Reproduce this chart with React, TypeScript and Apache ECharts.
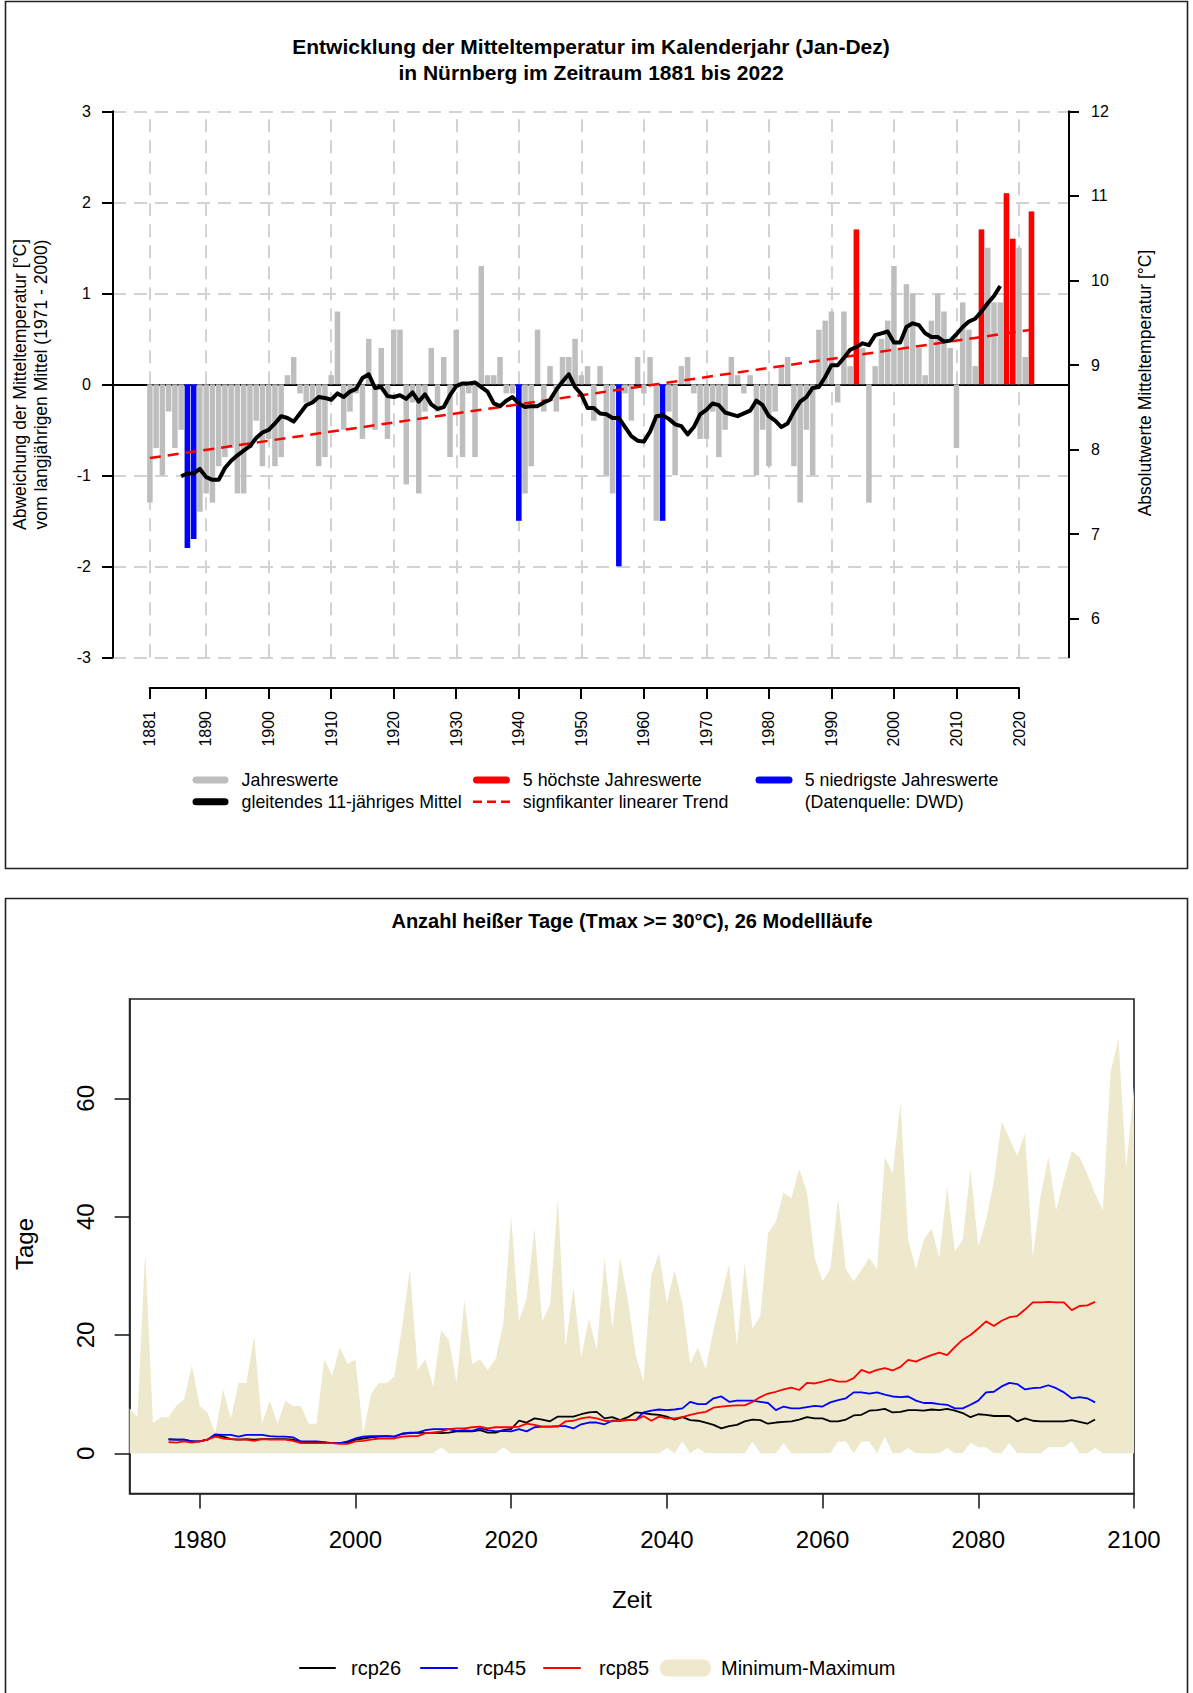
import React, { useEffect, useRef } from "react";
import * as echarts from "echarts";

// ---------- Top chart: annual mean temperature anomaly, Nürnberg ----------
const FIRST_YEAR = 1881;
const anomalies = [
  -1.3, -0.7, -1.0, -0.3, -0.7, -0.5, -1.8, -1.7, -1.4, -1.2,
  -1.3, -0.9, -0.8, -0.7, -1.2, -1.2, -0.7, -0.4, -0.9, -0.6,
  -0.9, -0.8, 0.1, 0.3, -0.1, -0.2, -0.2, -0.9, -0.8, 0.1,
  0.8, -0.5, -0.3, -0.1, -0.6, 0.5, -0.5, 0.4, -0.6, 0.6,
  0.6, -1.1, -0.2, -1.2, -0.3, 0.4, -0.3, 0.3, -0.8, 0.6,
  -0.8, -0.1, -0.8, 1.3, 0.1, 0.1, 0.3, -0.1, -0.1, -1.5,
  -1.2, -0.9, 0.6, -0.3, 0.2, -0.3, 0.3, 0.3, 0.5, 0.1,
  0.2, -0.4, 0.2, -1.0, -1.2, -2.0, -0.1, -0.4, 0.3, -0.1,
  0.3, -1.5, -1.5, -0.3, -1.0, 0.2, 0.3, -0.1, -0.6, -0.6,
  -0.3, -0.8, -0.5, 0.3, 0.1, -0.1, 0.1, -1.0, -0.5, -0.9,
  -0.3, 0.2, 0.3, -0.9, -1.3, -0.5, -1.0, 0.6, 0.7, 0.8,
  -0.2, 0.8, 0.2, 1.7, 0.4, -1.3, 0.2, 0.5, 0.7, 1.3,
  0.4, 1.1, 1.0, 0.4, 0.1, 0.7, 1.0, 0.8, 0.4, -0.7,
  0.9, 0.6, 0.2, 1.7, 1.5, 0.9, 0.9, 2.1, 1.6, 1.5,
  0.3, 1.9,
];
const hottestYears = [1994, 2014, 2018, 2019, 2022];
const coldestYears = [1887, 1888, 1940, 1956, 1963];

const MA_FIRST_YEAR = 1886;
const movingAverage = [
  -1.01, -0.98, -0.98, -0.93, -1.02, -1.05, -1.05, -0.92, -0.84, -0.78,
  -0.73, -0.68, -0.59, -0.53, -0.5, -0.43, -0.35, -0.37, -0.41, -0.32,
  -0.23, -0.2, -0.14, -0.15, -0.17, -0.1, -0.14, -0.08, -0.05, 0.07,
  0.11, -0.04, -0.03, -0.13, -0.14, -0.12, -0.16, -0.09, -0.19, -0.11,
  -0.22, -0.27, -0.25, -0.12, -0.02, 0.01, 0.01, 0.02, -0.03, -0.08,
  -0.21, -0.24, -0.18, -0.14, -0.21, -0.25, -0.24, -0.24, -0.2, -0.17,
  -0.06, 0.03, 0.11, -0.03, -0.11, -0.26, -0.26, -0.32, -0.33, -0.37,
  -0.37, -0.47, -0.57, -0.62, -0.63, -0.52, -0.35, -0.34, -0.38, -0.44,
  -0.46, -0.55, -0.47, -0.33, -0.28, -0.21, -0.23, -0.31, -0.33, -0.35,
  -0.32, -0.29, -0.18, -0.23, -0.35, -0.4, -0.47, -0.43, -0.3, -0.19,
  -0.14, -0.04, -0.03, 0.08, 0.21, 0.21, 0.29, 0.38, 0.41, 0.45,
  0.43, 0.54, 0.56, 0.58, 0.46, 0.46, 0.63, 0.67, 0.65, 0.56,
  0.52, 0.52, 0.47, 0.48, 0.55, 0.63, 0.69, 0.72, 0.8, 0.89,
  0.97, 1.08,
];

const trendYears = [1881, 2022];
const trendValues = [-0.81, 0.6];

const topTickYears = [1881, 1890, 1900, 1910, 1920, 1930, 1940, 1950, 1960, 1970, 1980, 1990, 2000, 2010, 2020];
const absoluteTicks = [6, 7, 8, 9, 10, 11, 12];

// ---------- Bottom chart: hot days (Tmax >= 30 °C), 26 model runs ----------
const ENV_FIRST_YEAR = 1971;
const envelopeMax = [
  7.6, 6.1, 34.1, 5.1, 6.1, 6.1, 8.0, 9.1, 14.9, 8.0,
  6.9, 3.4, 10.8, 5.9, 11.9, 11.9, 19.8, 5.0, 8.9, 5.0,
  8.9, 8.0, 8.0, 5.0, 5.0, 15.9, 13.1, 17.9, 15.1, 15.9,
  3.3, 10.0, 11.9, 11.9, 13.0, 21.4, 31.1, 14.1, 15.9, 11.2,
  20.8, 19.2, 11.9, 25.9, 15.1, 15.9, 14.1, 15.9, 22.0, 40.1,
  22.3, 26.2, 38.0, 22.3, 25.1, 43.1, 18.0, 28.1, 16.2, 22.8,
  17.5, 33.0, 21.1, 33.0, 25.9, 16.6, 12.1, 30.1, 33.8, 25.4,
  31.0, 25.4, 15.1, 17.9, 14.2, 21.0, 26.4, 32.0, 18.1, 32.1,
  21.1, 23.2, 37.2, 39.2, 44.1, 43.1, 48.1, 44.1, 33.0, 29.1,
  31.1, 43.1, 31.1, 29.1, 31.0, 33.0, 31.1, 50.1, 47.3, 59.3,
  36.1, 31.1, 36.1, 38.0, 33.0, 45.1, 34.1, 36.1, 48.0, 35.0,
  39.4, 45.9, 56.1, 53.2, 50.3, 54.1, 33.2, 43.4, 50.1, 41.1,
  46.3, 51.1, 50.1, 47.2, 43.9, 41.1, 64.5, 70.1, 48.2, 62.0,
];
const envelopeMin = [
  0, 0, 0, 0, 0, 0, 0, 0, 0, 0,
  0, 0, 0, 0, 0, 0, 0, 0, 0, 0,
  0, 0, 0, 0, 0, 0, 0, 0, 0, 0,
  0, 0, 0, 0, 0, 0, 0, 0, 0, 0,
  1.0, 0, 0, 0, 0, 0, 0, 0, 1.0, 0,
  0, 0, 0, 0, 0, 0, 0, 0, 0, 0,
  0, 0, 0, 0, 0, 0, 0, 0, 0, 0.9,
  0, 2.0, 0, 0.9, 0, 0, 0, 0, 0, 0,
  2.0, 0, 0, 0, 1.7, 0, 0, 0, 0, 0,
  0, 2.0, 2.0, 0, 2.0, 2.0, 0, 2.8, 0, 0,
  0.9, 0, 0, 0, 0, 0.9, 0, 0, 1.8, 1.0,
  1.0, 0, 0, 1.8, 0, 0, 0, 0, 1.0, 1.0,
  1.0, 2.0, 0, 0, 0.9, 0, 0, 0, 0, 0,
];

const RCP_FIRST_YEAR = 1976;
const rcp26 = [
  2.4, 2.3, 2.3, 2.0, 2.0, 2.3, 3.1, 2.8, 2.4, 2.3,
  2.4, 2.3, 2.4, 2.4, 2.4, 2.4, 2.3, 1.8, 1.8, 1.8,
  1.8, 1.7, 1.7, 1.8, 2.3, 2.5, 2.7, 2.8, 2.9, 2.8,
  3.3, 3.4, 3.5, 3.4, 3.5, 3.4, 3.5, 3.7, 3.7, 3.7,
  3.9, 3.5, 3.5, 3.9, 4.1, 5.5, 5.2, 5.9, 5.7, 5.4,
  6.2, 6.2, 6.2, 6.6, 6.9, 7.0, 5.9, 6.1, 5.6, 6.1,
  6.9, 6.8, 6.6, 6.5, 6.2, 5.7, 6.1, 5.6, 5.5, 5.2,
  4.8, 4.2, 4.6, 4.8, 5.4, 5.7, 5.6, 5.0, 5.2, 5.3,
  5.4, 5.7, 6.1, 5.9, 5.9, 5.4, 5.4, 5.7, 6.4, 6.5,
  7.2, 7.3, 7.5, 6.9, 7.0, 7.3, 7.3, 7.2, 7.4, 7.3,
  7.5, 7.2, 6.8, 6.1, 6.6, 6.5, 6.3, 6.3, 6.3, 5.4,
  5.9, 5.5, 5.4, 5.4, 5.4, 5.4, 5.6, 5.3, 5.0, 5.7,
];
const rcp45 = [
  2.3, 2.3, 2.3, 2.0, 2.0, 2.3, 3.2, 3.1, 3.1, 2.8,
  3.1, 3.1, 3.1, 2.9, 2.8, 2.8, 2.7, 2.0, 2.0, 2.0,
  1.9, 1.7, 1.7, 2.0, 2.5, 2.8, 2.9, 2.9, 2.9, 2.8,
  3.3, 3.5, 3.5, 3.9, 4.1, 4.1, 4.1, 3.8, 3.9, 3.8,
  4.2, 3.9, 3.7, 3.8, 3.7, 4.1, 3.7, 4.4, 4.5, 4.5,
  4.6, 4.6, 4.2, 4.9, 5.2, 5.2, 4.9, 5.5, 5.5, 5.6,
  5.6, 6.9, 7.2, 7.4, 7.3, 7.4, 7.6, 8.7, 8.3, 8.3,
  9.3, 9.6, 8.7, 8.9, 8.9, 8.9, 8.7, 8.5, 7.3, 7.9,
  7.6, 7.6, 7.8, 8.0, 7.9, 8.6, 9.0, 9.3, 10.3, 10.3,
  10.1, 10.3, 9.9, 9.6, 9.5, 9.6, 8.9, 8.5, 8.5, 8.3,
  8.2, 7.6, 7.6, 8.2, 8.9, 10.3, 10.4, 11.3, 11.9, 11.7,
  10.8, 11.0, 11.1, 11.5, 11.0, 10.3, 9.3, 9.5, 9.3, 8.6,
];
const rcp85 = [
  1.9, 1.8, 2.0, 1.8, 2.0, 2.3, 2.8, 2.5, 2.4, 2.3,
  2.3, 2.1, 2.4, 2.3, 2.3, 2.3, 2.1, 1.7, 1.7, 1.7,
  1.7, 1.7, 1.6, 1.6, 2.0, 2.1, 2.3, 2.5, 2.5, 2.5,
  2.8, 2.9, 2.9, 3.4, 3.5, 3.7, 4.1, 4.2, 4.2, 4.4,
  4.5, 4.2, 4.4, 4.4, 4.4, 4.5, 5.0, 4.8, 4.5, 4.5,
  4.5, 5.4, 5.5, 5.9, 6.1, 5.9, 5.5, 5.4, 5.6, 5.6,
  5.6, 6.3, 5.5, 6.2, 5.9, 5.9, 6.1, 6.5, 6.8, 7.0,
  7.7, 7.9, 8.0, 8.1, 8.1, 8.7, 9.5, 10.1, 10.4, 10.8,
  11.1, 10.7, 11.9, 11.8, 12.1, 12.5, 12.1, 12.1, 12.7, 14.1,
  13.6, 14.1, 14.4, 14.0, 14.6, 15.8, 15.5, 16.1, 16.6, 17.0,
  16.6, 18.0, 19.2, 20.0, 21.1, 22.3, 21.5, 22.4, 23.0, 23.2,
  24.3, 25.5, 25.5, 25.6, 25.5, 25.5, 24.2, 24.9, 25.0, 25.6,
];
const bottomXTicks = [1980, 2000, 2020, 2040, 2060, 2080, 2100];
const bottomYTicks = [0, 20, 40, 60];

const FONT = "'Liberation Sans', Arial, Helvetica, sans-serif";
const GRAY = "#BEBEBE";
const BEIGE = "#EEE8CD";

function pairs(start: number, values: number[]) {
  return values.map((v, i) => [start + i, v]);
}

function txt(text: string, x: number, y: number, size: number, opts: any = {}) {
  return {
    type: "text",
    x,
    y,
    rotation: opts.rotation || 0,
    silent: true,
    style: {
      text,
      fontSize: size,
      fontFamily: FONT,
      fontWeight: opts.bold ? "bold" : "normal",
      fill: "#000",
      align: opts.align || "center",
      verticalAlign: "middle",
    },
  };
}

function seg(x1: number, x2: number, y: number, color: string, width: number, dash?: number[]) {
  return {
    type: "line",
    silent: true,
    shape: { x1, y1: y, x2, y2: y },
    style: { stroke: color, lineWidth: width, lineCap: dash ? "butt" : "round", lineDash: dash || null },
  };
}

export default function App() {
  const ref = useRef<HTMLDivElement>(null);

  useEffect(() => {
    const chart = echarts.init(ref.current!, null, { renderer: "svg" });
    const valueOf = (y: number) => anomalies[y - FIRST_YEAR];
    const axisTxt = { color: "#000", fontFamily: FONT };

    const option: any = {
      animation: false,
      backgroundColor: "#fff",
      grid: [
        { left: 113, top: 111.3, width: 956, height: 546 },
        { left: 149.7, top: 687, width: 869.3, height: 1 },
        { left: 129.6, top: 999, width: 1004.4, height: 494.5, show: true, borderColor: "#222", borderWidth: 1.6, backgroundColor: "transparent" },
      ],
      xAxis: [
        {
          gridIndex: 0, type: "value", min: 1875.1, max: 2028,
          axisLine: { show: true, onZero: true, onZeroAxisIndex: 0, lineStyle: { color: "#000", width: 2 } },
          axisTick: { show: false }, axisLabel: { show: false }, splitLine: { show: false },
        },
        {
          gridIndex: 1, type: "value", min: 1881, max: 2020,
          axisLine: { show: true, onZero: false, lineStyle: { color: "#000", width: 2 } },
          axisTick: { show: true, customValues: topTickYears, length: 11, lineStyle: { color: "#000", width: 2 } },
          axisLabel: { customValues: topTickYears, rotate: 90, margin: 23, fontSize: 16, ...axisTxt, formatter: (v: number) => String(v) },
          splitLine: { show: false },
        },
        {
          gridIndex: 2, type: "value", min: 1971, max: 2100,
          axisLine: { show: true, onZero: false, lineStyle: { color: "#222", width: 1.6 } },
          axisTick: { show: true, customValues: bottomXTicks, length: 15, lineStyle: { color: "#222", width: 1.6 } },
          axisLabel: { customValues: bottomXTicks, margin: 34, fontSize: 24, ...axisTxt, formatter: (v: number) => String(v) },
          splitLine: { show: false },
        },
      ],
      yAxis: [
        {
          gridIndex: 0, type: "value", min: -3, max: 3, interval: 1, position: "left",
          axisLine: { show: true, lineStyle: { color: "#000", width: 2 } },
          axisTick: { show: true, length: 11, lineStyle: { color: "#000", width: 2 } },
          axisLabel: { margin: 22, fontSize: 16, ...axisTxt },
          splitLine: { show: true, lineStyle: { color: "#D3D3D3", width: 2, type: [13, 8] } },
        },
        {
          gridIndex: 0, type: "value", min: 5.545, max: 12, position: "right",
          axisLine: { show: true, lineStyle: { color: "#000", width: 2 } },
          axisTick: { show: true, customValues: absoluteTicks, length: 10, lineStyle: { color: "#000", width: 2 } },
          axisLabel: { customValues: absoluteTicks, margin: 22, fontSize: 16, ...axisTxt },
          splitLine: { show: false },
        },
        { gridIndex: 1, type: "value", min: 0, max: 1, show: false },
        {
          gridIndex: 2, type: "value", min: -6.8, max: 76.8,
          axisLine: { show: true, lineStyle: { color: "#222", width: 1.6 } },
          axisTick: { show: true, customValues: bottomYTicks, length: 15, lineStyle: { color: "#222", width: 1.6 } },
          axisLabel: { customValues: bottomYTicks, rotate: 90, margin: 32, fontSize: 24, ...axisTxt },
          splitLine: { show: false },
        },
      ],
      series: [
        {
          name: "grid", type: "line", xAxisIndex: 0, yAxisIndex: 0, data: [], z: 1, silent: true,
          markLine: {
            z: 1, silent: true, symbol: "none", label: { show: false },
            lineStyle: { color: "#D3D3D3", width: 2, type: [13, 8] },
            data: topTickYears.map((y) => ({ xAxis: y })),
          },
        },
        {
          name: "Jahreswerte", type: "bar", xAxisIndex: 0, yAxisIndex: 0, barWidth: 5.5, barGap: "-100%", z: 6,
          itemStyle: { color: GRAY }, data: pairs(FIRST_YEAR, anomalies),
        },
        {
          name: "5 höchste Jahreswerte", type: "bar", xAxisIndex: 0, yAxisIndex: 0, barWidth: 5.5, barGap: "-100%", z: 7,
          itemStyle: { color: "#FF0000" }, data: hottestYears.map((y) => [y, valueOf(y)]),
        },
        {
          name: "5 niedrigste Jahreswerte", type: "bar", xAxisIndex: 0, yAxisIndex: 0, barWidth: 5.5, barGap: "-100%", z: 7,
          itemStyle: { color: "#0000FF" }, data: coldestYears.map((y) => [y, valueOf(y)]),
        },
        {
          name: "signfikanter linearer Trend", type: "line", xAxisIndex: 0, yAxisIndex: 0, z: 8, symbol: "none",
          lineStyle: { color: "#FF0000", width: 2.5, type: [11, 7] },
          data: trendYears.map((y, i) => [y, trendValues[i]]),
        },
        {
          name: "gleitendes 11-jähriges Mittel", type: "line", xAxisIndex: 0, yAxisIndex: 0, z: 9, symbol: "none",
          lineStyle: { color: "#000", width: 4, join: "round" },
          data: pairs(MA_FIRST_YEAR, movingAverage),
        },
        {
          name: "Minimum-Maximum", type: "line", xAxisIndex: 2, yAxisIndex: 3, symbol: "none", z: 1,
          lineStyle: { width: 0, opacity: 0 }, areaStyle: { color: BEIGE, opacity: 1, origin: 0 },
          data: pairs(ENV_FIRST_YEAR, envelopeMax),
        },
        {
          name: "Minimum", type: "line", xAxisIndex: 2, yAxisIndex: 3, symbol: "none", z: 2,
          lineStyle: { width: 0, opacity: 0 }, areaStyle: { color: "#FFFFFF", opacity: 1, origin: 0 },
          data: pairs(ENV_FIRST_YEAR, envelopeMin),
        },
        {
          name: "rcp26", type: "line", xAxisIndex: 2, yAxisIndex: 3, symbol: "none", z: 3,
          lineStyle: { color: "#000", width: 1.8 }, data: pairs(RCP_FIRST_YEAR, rcp26),
        },
        {
          name: "rcp45", type: "line", xAxisIndex: 2, yAxisIndex: 3, symbol: "none", z: 3,
          lineStyle: { color: "#0000FF", width: 1.8 }, data: pairs(RCP_FIRST_YEAR, rcp45),
        },
        {
          name: "rcp85", type: "line", xAxisIndex: 2, yAxisIndex: 3, symbol: "none", z: 3,
          lineStyle: { color: "#FF0000", width: 1.8 }, data: pairs(RCP_FIRST_YEAR, rcp85),
        },
      ],
      graphic: [
        { type: "rect", silent: true, shape: { x: 5.5, y: 1.5, width: 1182, height: 867 }, style: { fill: "none", stroke: "#222", lineWidth: 1.6 } },
        { type: "rect", silent: true, shape: { x: 5.5, y: 898.5, width: 1182, height: 800 }, style: { fill: "none", stroke: "#222", lineWidth: 1.6 } },
        txt("Entwicklung der Mitteltemperatur im Kalenderjahr (Jan-Dez)", 591, 46.4, 21, { bold: true }),
        txt("in Nürnberg im Zeitraum 1881 bis 2022", 591, 72.4, 21, { bold: true }),
        txt("Abweichung der Mitteltemperatur [°C]", 19.5, 384.5, 17.5, { rotation: Math.PI / 2 }),
        txt("vom langjährigen Mittel (1971 - 2000)", 41, 384.5, 17.5, { rotation: Math.PI / 2 }),
        txt("Absolutwerte Mitteltemperatur [°C]", 1145, 383, 17.5, { rotation: Math.PI / 2 }),
        seg(196, 225, 780, GRAY, 7),
        txt("Jahreswerte", 241.6, 780, 17.8, { align: "left" }),
        seg(196, 225, 801.7, "#000", 7),
        txt("gleitendes 11-jähriges Mittel", 241.6, 801.7, 17.8, { align: "left" }),
        seg(476.5, 506.5, 780, "#FF0000", 7),
        txt("5 höchste Jahreswerte", 522.8, 780, 17.8, { align: "left" }),
        seg(473, 510, 801.7, "#FF0000", 2.5, [9, 5]),
        txt("signfikanter linearer Trend", 522.8, 801.7, 17.8, { align: "left" }),
        seg(759, 789, 780, "#0000FF", 7),
        txt("5 niedrigste Jahreswerte", 804.7, 780, 17.8, { align: "left" }),
        txt("(Datenquelle: DWD)", 804.7, 801.7, 17.8, { align: "left" }),
        txt("Anzahl heißer Tage (Tmax >= 30°C), 26 Modellläufe", 632, 921, 20, { bold: true }),
        txt("Zeit", 632, 1599, 24),
        txt("Tage", 24, 1244, 24, { rotation: Math.PI / 2 }),
        seg(300, 335, 1668, "#000", 2),
        txt("rcp26", 351, 1668, 20, { align: "left" }),
        seg(421, 457, 1668, "#0000FF", 2),
        txt("rcp45", 476, 1668, 20, { align: "left" }),
        seg(544, 580, 1668, "#FF0000", 2),
        txt("rcp85", 599, 1668, 20, { align: "left" }),
        { type: "rect", silent: true, shape: { x: 660, y: 1659.5, width: 51, height: 17, r: 8 }, style: { fill: BEIGE } },
        txt("Minimum-Maximum", 721, 1668, 20, { align: "left" }),
      ],
    };

    chart.setOption(option);
    return () => chart.dispose();
  }, []);

  return (
    <div
      ref={ref}
      style={{ position: "absolute", left: 0, top: 0, width: 1193, height: 1693, background: "#fff" }}
    />
  );
}
